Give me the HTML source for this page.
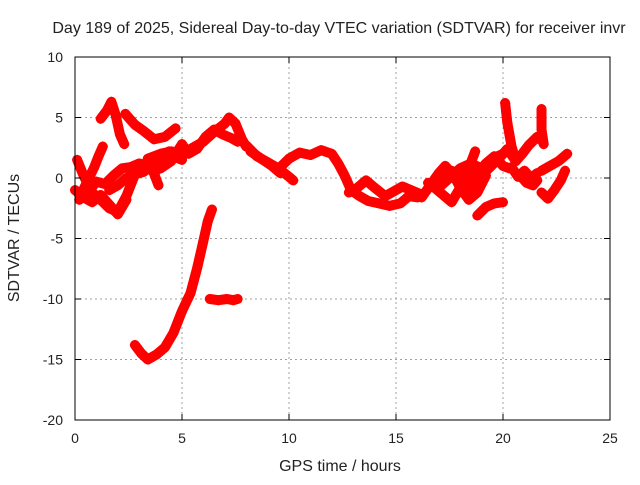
<!DOCTYPE html>
<html><head><meta charset="utf-8"><style>
body{margin:0;background:#fff;}
svg text{font-family:"Liberation Sans",sans-serif;font-size:14px;fill:#222;}
svg text.big{font-size:16px;}
</style></head><body>
<svg id="chart" width="640" height="480" xmlns="http://www.w3.org/2000/svg">
<rect width="640" height="480" fill="#fff"/>
<text class="big" x="339" y="33" text-anchor="middle">Day 189 of 2025, Sidereal Day-to-day VTEC variation (SDTVAR) for receiver invr</text>
<text class="big" x="340" y="471" text-anchor="middle">GPS time / hours</text>
<text class="big" transform="translate(19,238) rotate(-90)" text-anchor="middle">SDTVAR / TECUs</text>
<g id="grid"></g>
<g id="marks"></g>
<rect x="75" y="57" width="535" height="363" fill="none" stroke="#000" stroke-width="1"/>
<g id="ticks"></g>
</svg>
<script>
const xTicks=[0,5,10,15,20,25];
const yTicks=[-20,-15,-10,-5,0,5,10];
const trackA_t=[1.2,1.5,1.7,1.9,2.1,2.3];
const trackA_v=[4.9,5.6,6.3,5.2,3.6,2.8];
const trackB_t=[2.35,2.8,3.2,3.7,4.2,4.7];
const trackB_v=[5.3,4.4,3.9,3.2,3.4,4.1];
const trackC_t=[0.3,0.6,0.9,1.1,1.3];
const trackC_v=[-1.3,-0.2,0.9,1.8,2.6];
const trackD_t=[0.1,0.4,0.8,1.2,1.6,2.0,2.4,2.8,3.2,3.6,3.9];
const trackD_v=[1.5,0.2,-1.2,-1.8,-2.5,-2.8,-1.5,0.3,1.0,0.8,-0.6];
const trackE_t=[0.2,0.6,1.0,1.4,1.8,2.2,2.6,3.0,3.4,3.8,4.2,4.6,5.0];
const trackE_v=[-1.8,-1.2,-0.3,-0.5,0.2,0.8,0.9,1.2,1.0,0.6,1.3,1.8,1.5];
const trackF_t=[3.4,4.0,4.5,5.0,5.5,6.0,6.5,7.0,7.2,7.5,7.8,8.0];
const trackF_v=[1.6,2.0,2.2,2.0,2.5,3.0,3.8,4.5,5.0,4.5,3.2,2.6];
const trackG_t=[4.0,4.5,5.0,5.3,5.7,6.1,6.5,6.9,7.3,7.6];
const trackG_v=[0.8,1.4,2.8,2.0,2.4,3.4,4.0,3.6,3.3,3.0];
const trackH_t=[8.0,8.5,9.0,9.5,10.0,10.2];
const trackH_v=[2.7,1.8,1.3,0.8,0.1,-0.2];
const trackI_t=[9.6,10.0,10.5,11.0,11.5,12.0,12.3,12.6,12.9,13.3,13.7,14.2,14.7,15.2,15.6,16.0];
const trackI_v=[0.9,1.6,2.1,1.9,2.3,2.0,1.2,0.2,-1.0,-1.5,-1.9,-2.1,-2.3,-2.1,-1.5,-1.6];
const trackJ_t=[12.8,13.2,13.6,14.0,14.5,15.0,15.3,15.7,16.1];
const trackJ_v=[-1.2,-0.8,-0.2,-0.8,-1.5,-1.0,-0.7,-1.0,-1.3];
const trackK_t=[16.2,16.6,17.0,17.3,17.7,18.0,18.4,18.8,19.2];
const trackK_v=[-1.6,-0.6,0.4,1.0,0.2,-0.8,-1.8,-1.2,0.2];
const trackL_t=[16.8,17.2,17.6,18.0,18.4,18.7];
const trackL_v=[-0.8,-1.4,-2.0,-0.8,0.8,2.2];
const trackM_t=[18.6,19.0,19.4,19.8,20.2,20.6];
const trackM_v=[-0.8,0.2,0.9,1.6,2.4,1.4];
const trackN_t=[18.8,19.2,19.6,20.0];
const trackN_v=[-3.1,-2.4,-2.1,-2.0];
const trackO_t=[20.1,20.2,20.3,20.4,20.6,20.9,21.2,21.6,21.8];
const trackO_v=[6.2,4.6,3.6,2.6,1.4,2.0,2.7,3.4,3.1];
const trackP_t=[20.4,20.7,21.0,21.3,21.6];
const trackP_v=[0.9,0.1,0.6,0.0,0.4];
const trackQ_t=[21.8,21.8,21.8,21.85,21.9];
const trackQ_v=[5.7,4.8,4.0,3.4,2.8];
const trackR_t=[21.8,22.2,22.6,23.0];
const trackR_v=[0.6,1.0,1.4,2.0];
const trackS_t=[21.8,22.1,22.4,22.7,22.9];
const trackS_v=[-1.2,-1.7,-1.0,-0.2,0.6];
const trackT_t=[2.8,3.1,3.4,3.8,4.2,4.6,5.0,5.4,5.7,6.0,6.2,6.4];
const trackT_v=[-13.8,-14.5,-15.0,-14.6,-14.0,-12.8,-11.0,-9.5,-7.5,-5.2,-3.6,-2.6];
const trackU_t=[6.3,6.7,7.1,7.4,7.6];
const trackU_v=[-10.0,-10.1,-10.0,-10.1,-10.0];
const trackV_t=[0.0,0.4,0.8,1.2,1.6,2.0,2.4];
const trackV_v=[-1.0,-1.6,-2.0,-1.4,-2.2,-3.0,-1.8];
const trackW_t=[1.6,2.0,2.4,2.8,3.2,3.6,4.0,4.4];
const trackW_v=[-1.0,-0.6,0.0,0.3,0.5,1.0,1.8,2.2];
const trackX_t=[8.2,8.7,9.2,9.6];
const trackX_v=[2.2,1.6,1.0,0.4];
const trackY_t=[16.5,17.0,17.5,18.0,18.5,19.0,19.5,20.0];
const trackY_v=[-0.4,-0.8,0.0,0.8,1.2,0.8,1.6,2.0];
const trackZ_t=[17.2,17.6,18.0,18.4,18.8,19.2,19.6,20.0,20.3];
const trackZ_v=[-0.4,0.6,-0.2,-0.8,0.4,1.2,1.8,1.0,0.8];
const trackAA_t=[20.8,21.1,21.4,21.6];
const trackAA_v=[0.2,-0.4,-0.6,-0.2];
const tracks=[[trackA_t,trackA_v],[trackB_t,trackB_v],[trackC_t,trackC_v],[trackD_t,trackD_v],[trackE_t,trackE_v],[trackF_t,trackF_v],[trackG_t,trackG_v],[trackH_t,trackH_v],[trackI_t,trackI_v],[trackJ_t,trackJ_v],[trackK_t,trackK_v],[trackL_t,trackL_v],[trackM_t,trackM_v],[trackN_t,trackN_v],[trackO_t,trackO_v],[trackP_t,trackP_v],[trackQ_t,trackQ_v],[trackR_t,trackR_v],[trackS_t,trackS_v],[trackT_t,trackT_v],[trackU_t,trackU_v],[trackV_t,trackV_v],[trackW_t,trackW_v],[trackX_t,trackX_v],[trackY_t,trackY_v],[trackZ_t,trackZ_v],[trackAA_t,trackAA_v]];
const X0=75,X1=610,Y0=420,Y1=57;
function xs(t){return X0+(t-0)/(25-0)*(X1-X0);}
function ys(v){return Y0-(v+20)/(10+20)*(Y0-Y1);}
const NS="http://www.w3.org/2000/svg";
const grid=document.getElementById('grid'),ticks=document.getElementById('ticks'),marks=document.getElementById('marks');
function mk(tag,attrs,parent){const e=document.createElementNS(NS,tag);for(const k in attrs)e.setAttribute(k,attrs[k]);parent.appendChild(e);return e;}
xTicks.forEach(t=>{const x=xs(t);
 if(t>0&&t<25){const g=mk('line',{x1:x,x2:x,y1:Y1,y2:Y0,stroke:'#a0a0a0','stroke-dasharray':'2,3'},grid);
 
 }
 mk('line',{x1:x,x2:x,y1:Y0,y2:Y0-6,stroke:'#000'},ticks);mk('line',{x1:x,x2:x,y1:Y1,y2:Y1+6,stroke:'#000'},ticks);
 const l=mk('text',{x:x,y:Y0+23,'text-anchor':'middle'},ticks);l.textContent=t;
 
 });
yTicks.forEach(v=>{const y=ys(v);
 if(v>-20&&v<10){const g=mk('line',{x1:X0,x2:X1,y1:y,y2:y,stroke:'#a0a0a0','stroke-dasharray':'2,3'},grid);
 
 }
 mk('line',{x1:X0,x2:X0+6,y1:y,y2:y,stroke:'#000'},ticks);mk('line',{x1:X1,x2:X1-6,y1:y,y2:y,stroke:'#000'},ticks);
 const l=mk('text',{x:X0-12,y:y+5,'text-anchor':'end'},ticks);l.textContent=v;
 
 });
tracks.forEach(tr=>{const ts=tr[0],vs=tr[1];
 const pts=ts.map((t,i)=>xs(t)+','+ys(vs[i])).join(' ');
 const p=mk('polyline',{points:pts,fill:'none',stroke:'#ff0000','stroke-width':10,'stroke-linejoin':'round','stroke-linecap':'round'},marks);
 
 
 ts.forEach((t,i)=>{const x=xs(t),y=ys(vs[i]);
  const m=mk('path',{d:`M${x-5},${y}H${x+5}M${x},${y-5}V${y+5}`,stroke:'#ff0000','stroke-width':1.2},marks);
  
  });});
</script>
</body></html>
